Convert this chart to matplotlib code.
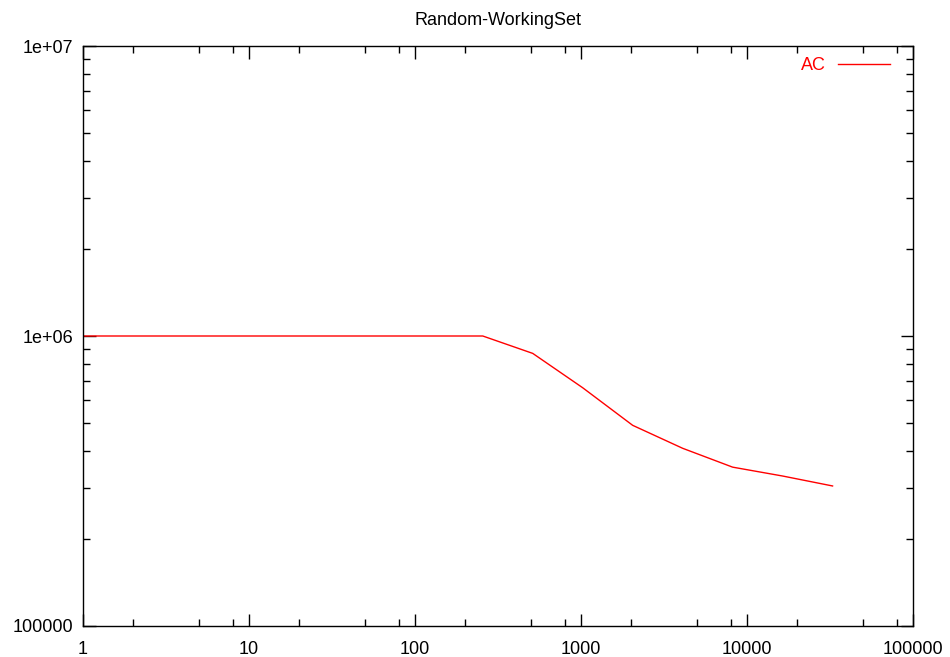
import numpy as np
import matplotlib
matplotlib.use('Agg')
import matplotlib.pyplot as plt
from matplotlib.ticker import FixedLocator, FuncFormatter, NullFormatter

plt.rcParams['font.family'] = ['Liberation Sans', 'DejaVu Sans']
plt.rcParams['font.size'] = 13

# working set sizes and AC values
sizes = [1, 2, 4, 8, 16, 32, 64, 128, 256, 512, 1024, 2048, 4096, 8192, 16384, 32768]
ac_values = [1000000, 1000000, 1000000, 1000000, 1000000, 1000000, 1000000, 1000000,
             1000000, 871000, 663000, 492000, 410000, 353000, 329000, 304000]

x_major = [1, 10, 100, 1000, 10000, 100000]
y_major = [100000, 1000000, 10000000]
y_labels = {100000: '100000', 1000000: '1e+06', 10000000: '1e+07'}

fig = plt.figure(figsize=(9.5, 6.57), dpi=100)
ax = fig.add_axes([83 / 950, 31 / 657, 830 / 950, 580 / 657])

ax.plot(sizes, ac_values, color='#ff0000', linewidth=1.0, label='AC')

ax.set_xscale('log')
ax.set_yscale('log')
ax.set_xlim(1, 100000)
ax.set_ylim(100000, 10000000)

# gnuplot-like ticks: inward, mirrored on all four sides
x_minor = [m * 10 ** d for d in range(5) for m in (2, 5, 8)]
y_minor = [m * 10 ** d for d in range(5, 7) for m in range(2, 10)]
ax.xaxis.set_major_locator(FixedLocator(x_major))
ax.xaxis.set_minor_locator(FixedLocator(x_minor))
ax.yaxis.set_major_locator(FixedLocator(y_major))
ax.yaxis.set_minor_locator(FixedLocator(y_minor))
ax.xaxis.set_major_formatter(FuncFormatter(lambda v, p: '%d' % round(v)))
ax.yaxis.set_major_formatter(FuncFormatter(lambda v, p: y_labels.get(int(round(v)), '')))
ax.xaxis.set_minor_formatter(NullFormatter())
ax.yaxis.set_minor_formatter(NullFormatter())
ax.tick_params(which='both', direction='in', top=True, right=True, width=1, labelsize=13)
ax.tick_params(which='major', length=9)
ax.tick_params(which='minor', length=5)
ax.tick_params(axis='x', which='major', pad=11)
ax.tick_params(axis='y', which='major', pad=7)

for s in ax.spines.values():
    s.set_linewidth(1.0)
    s.set_color('black')

ax.set_title('Random-WorkingSet', fontsize=13, pad=15)

leg = ax.legend(loc='upper right', bbox_to_anchor=(0.981, 0.993), frameon=False,
                markerfirst=False, handlelength=2.9, handletextpad=0.65,
                borderaxespad=0.0, fontsize=13)
for t in leg.get_texts():
    t.set_color('#ff0000')

plt.savefig('out.png', dpi=100)
plt.close()
